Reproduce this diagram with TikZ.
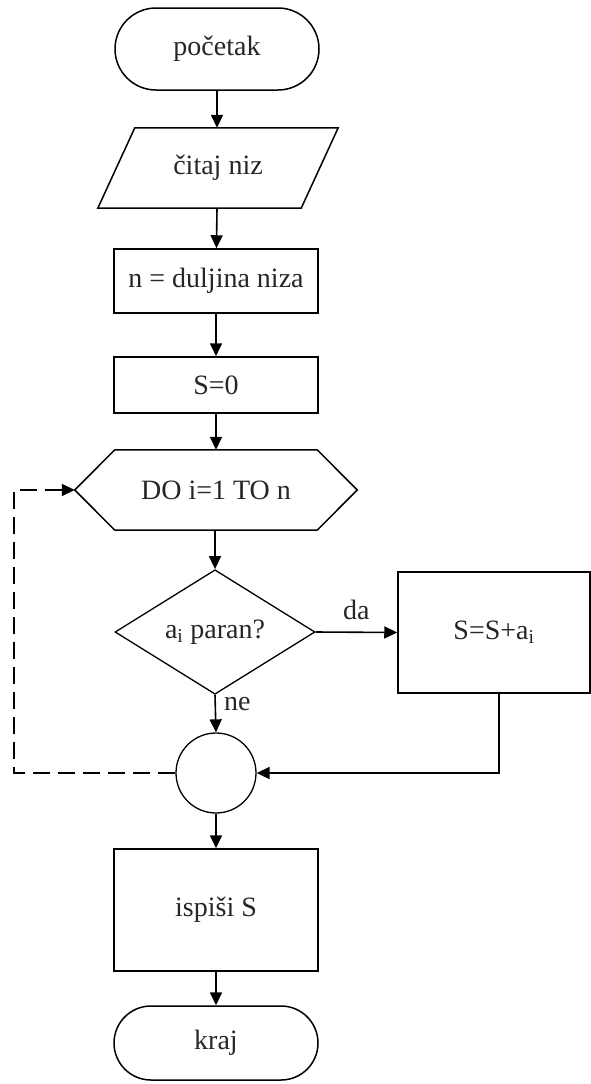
\documentclass[tikz,border=0pt]{standalone}
\usepackage{fontspec}
\setmainfont{Liberation Serif}
\usetikzlibrary{arrows.meta,shapes.geometric,shapes.misc,calc}

\tikzset{
  base/.style={draw=black, line width=1.5pt, font=\fontsize{28}{32}\selectfont, text=black!85, inner sep=0pt},
  terminal/.style={base, rounded rectangle, minimum width=204pt},
  process/.style={base, rectangle, minimum width=204pt},
  helper/.style={rectangle, font=\fontsize{28}{32}\selectfont, text=black!85, inner sep=0pt},
  decision/.style={base, diamond, line width=1.3pt, minimum width=200pt, minimum height=120pt},
  joint/.style={base, circle, line width=1.3pt, minimum size=80pt},
  flow/.style={line width=1.6pt, -{Triangle[length=13pt,width=12pt]}},
  back/.style={flow, dash pattern=on 17pt off 8pt},
  lbl/.style={font=\fontsize{28}{32}\selectfont, text=black!85, inner sep=0pt}
}

\begin{document}
\begin{tikzpicture}[x=1pt, y=-1pt]
  \useasboundingbox (0,0) rectangle (591,1084);

  % nodes
  \node[terminal, minimum height=82pt] (start) at (217,49) {početak};
  \node[helper, minimum width=203pt, minimum height=80pt] (read) at (218,168) {čitaj niz};
  \node[process, minimum height=64pt] (len) at (216,281) {n = duljina niza};
  \node[process, minimum height=56pt] (s0) at (216,385) {S=0};
  \node[helper, minimum width=202pt, minimum height=80pt] (loop) at (216,490) {DO i=1 TO n};
  \node[decision] (dec) at (215,632) {a\textsubscript{i} paran?};
  \node[process, minimum width=192pt, minimum height=121pt] (add) at (494,632.5) {S=S+a\textsubscript{i}};
  \node[joint] (join) at (216,773) {};
  \node[process, minimum height=122pt] (out) at (216,910) {ispiši S};
  \node[terminal, minimum height=74pt] (end) at (216,1043) {kraj};

  % input parallelogram (top edge shifted right)
  \draw[line width=1.5pt, line join=miter]
    ([xshift=18.5pt]read.north west) -- ([xshift=18.5pt]read.north east)
    -- ([xshift=-18.5pt]read.south east) -- ([xshift=-18.5pt]read.south west)
    -- cycle;
  % loop hexagon
  \coordinate (loopL) at ([xshift=-40pt]loop.west);
  \coordinate (loopR) at ([xshift=40pt]loop.east);
  \draw[line width=1.5pt, line join=miter]
    (loop.north west) -- (loop.north east) -- (loopR)
    -- (loop.south east) -- (loop.south west) -- (loopL) -- cycle;

  % connectors
  \draw[flow] (start) -- (start.south |- read.north);
  \draw[flow] (start.south |- read.south) -- (len);
  \draw[flow] (len) -- (s0);
  \draw[flow] (s0) -- (loop);
  \draw[flow] (loop.south -| dec.north) -- (dec);
  \draw[flow] (dec.east) -- node[lbl, above=12pt] {da} (add.west);
  \draw[flow] (dec.south) -- node[lbl, right=8pt, pos=0.25] {ne} (join.north);
  \draw[flow] ([xshift=5pt]add.south) |- (join.east);
  \coordinate (backcorner) at (14,773);
  \draw[back] (join.west) -- (backcorner) |- (loopL);
  \draw[flow] (join) -- (out);
  \draw[flow] (out) -- (end);
\end{tikzpicture}
\end{document}
